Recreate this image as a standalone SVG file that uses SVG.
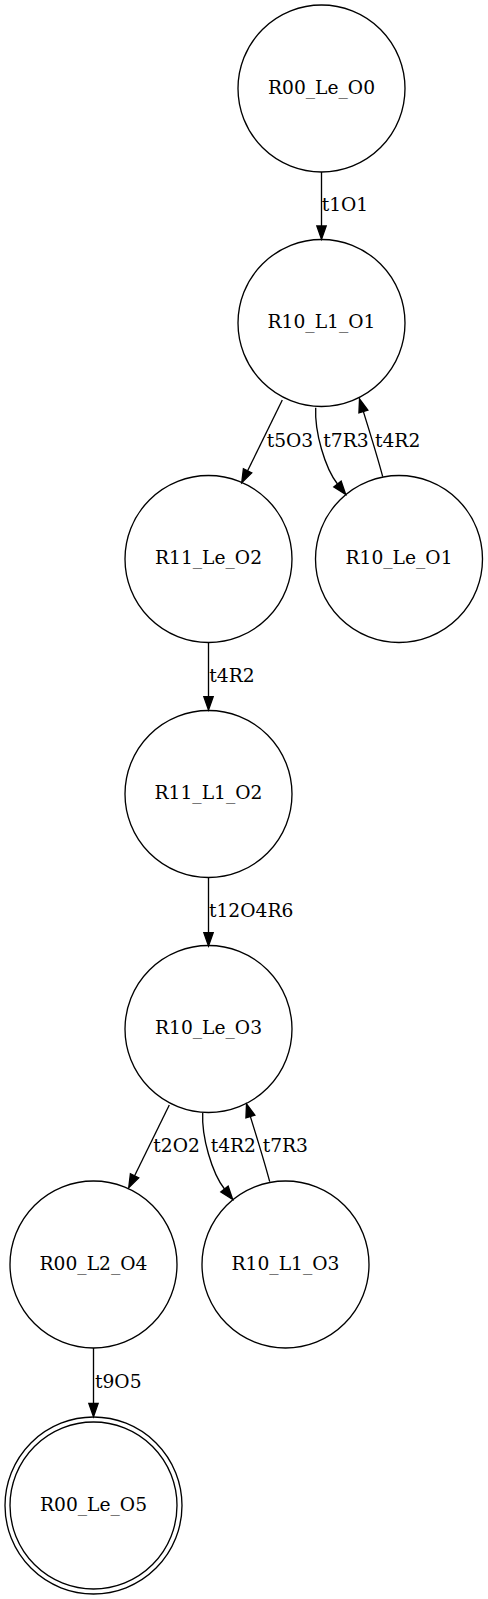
<svg xmlns="http://www.w3.org/2000/svg" width="488" height="1599" viewBox="0 0 488 1599">
<style>
.node circle{fill:none;stroke:#000;stroke-width:1.33}
.node text{font-family:"DejaVu Serif","Liberation Serif",serif;font-size:18.67px;text-anchor:middle;fill:#000}
.edge path{fill:none;stroke:#000;stroke-width:1.33;marker-end:url(#arr)}
.elabel{font-family:"DejaVu Serif","Liberation Serif",serif;font-size:18.67px;fill:#000}
</style>
<defs>
<marker id="arr" markerUnits="userSpaceOnUse" markerWidth="15" markerHeight="12" refX="0" refY="6" orient="auto" overflow="visible">
<path d="M0,1.33 L13.33,6 L0,10.67 Z" fill="#000" stroke="#000" stroke-width="1.33"/>
</marker>
</defs>
<rect width="488" height="1599" fill="#fff"/>
<g id="edges">
<g class="edge" id="e1"><path d="M321.5,172 L321.5,226"/><text class="elabel" x="321.7" y="211">t1O1</text></g>
<g class="edge" id="e2"><path d="M282.3,400 L247.6,470.8"/><text class="elabel" x="266.7" y="446.7">t5O3</text></g>
<g class="edge" id="e3"><path d="M315.7,407.7 C314.5,432 325,468 337.5,484"/><text class="elabel" x="323.3" y="446.7">t7R3</text></g>
<g class="edge" id="e4"><path d="M382.7,476.7 C377,455 369,430 363.4,411.6"/><text class="elabel" x="375" y="446.7">t4R2</text></g>
<g class="edge" id="e5"><path d="M208.5,642 L208.5,696.7"/><text class="elabel" x="209.3" y="681.7">t4R2</text></g>
<g class="edge" id="e6"><path d="M208.5,877.5 L208.5,932.7"/><text class="elabel" x="209" y="916.7">t12O4R6</text></g>
<g class="edge" id="e7"><path d="M169.3,1105 L134.6,1175.8"/><text class="elabel" x="153.3" y="1151.7">t2O2</text></g>
<g class="edge" id="e8"><path d="M202.7,1112.7 C201.5,1137 212,1173 224.5,1189"/><text class="elabel" x="210.7" y="1151.7">t4R2</text></g>
<g class="edge" id="e9"><path d="M269.7,1181.7 C264,1160 256,1135 250.4,1116.6"/><text class="elabel" x="262.7" y="1151.7">t7R3</text></g>
<g class="edge" id="e10"><path d="M93.5,1348 L93.5,1403.4"/><text class="elabel" x="95" y="1388.3">t9O5</text></g>
</g>
<g class="node" id="R00_Le_O0"><circle cx="321.5" cy="88.5" r="83.5"/><text x="321.5" y="93.5">R00_Le_O0</text></g>
<g class="node" id="R10_L1_O1"><circle cx="321.5" cy="323" r="83.5"/><text x="321.5" y="328">R10_L1_O1</text></g>
<g class="node" id="R11_Le_O2"><circle cx="208.5" cy="559" r="83.5"/><text x="208.5" y="564">R11_Le_O2</text></g>
<g class="node" id="R10_Le_O1"><circle cx="399" cy="559" r="83.5"/><text x="399" y="564">R10_Le_O1</text></g>
<g class="node" id="R11_L1_O2"><circle cx="208.5" cy="794" r="83.5"/><text x="208.5" y="799">R11_L1_O2</text></g>
<g class="node" id="R10_Le_O3"><circle cx="208.5" cy="1029" r="83.5"/><text x="208.5" y="1034">R10_Le_O3</text></g>
<g class="node" id="R00_L2_O4"><circle cx="93.5" cy="1264.5" r="83.5"/><text x="93.5" y="1269.5">R00_L2_O4</text></g>
<g class="node" id="R10_L1_O3"><circle cx="285.5" cy="1264.5" r="83.5"/><text x="285.5" y="1269.5">R10_L1_O3</text></g>
<g class="node" id="R00_Le_O5"><circle cx="93.5" cy="1505.5" r="83.5"/><circle cx="93.5" cy="1505.5" r="88.5"/><text x="93.5" y="1510.5">R00_Le_O5</text></g>
</svg>
